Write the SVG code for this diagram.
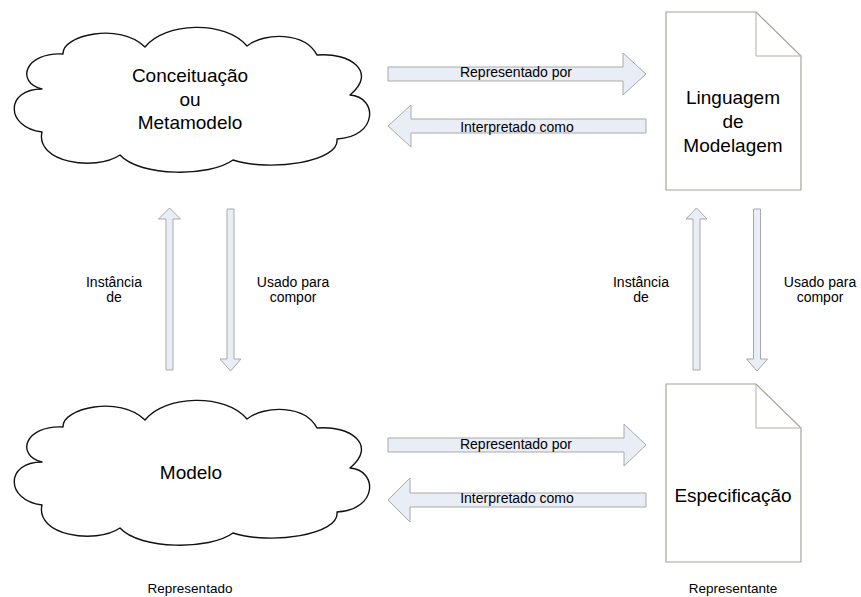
<svg xmlns="http://www.w3.org/2000/svg" xmlns:xlink="http://www.w3.org/1999/xlink" width="861" height="597" viewBox="0 0 861 597">
  <style>
    text { font-family: "Liberation Sans", Arial, sans-serif; fill: #000; }
    .big { font-size: 19px; text-anchor: middle; }
    .lbl { font-size: 14px; text-anchor: middle; }
    .cap { font-size: 13.5px; text-anchor: middle; }
    .cloud { fill: #fff; stroke: #111; stroke-width: 1.4; stroke-linejoin: round; }
    .doc { fill: #fff; stroke: #aaa399; stroke-width: 1.2; }
    .fold { fill: none; stroke: #b5afa7; stroke-width: 1; }
    .arrow { fill: #e9edf5; stroke: #a9a9a9; stroke-width: 1; }
  </style>
  <defs>
    <!-- cloud outline, drawn at the lower position -->
    <path id="cloudShape" class="cloud" d="M42,462 C15,455 25,425 63,427 C62,408 120,395 145,420 C165,395 225,393 247,419 C265,405 305,405 317,428 C350,425 378,445 350,468 C378,470 378,510 337,512 C340,535 270,545 233,533 C210,550 140,550 120,528 C95,545 35,535 42,505 C5,500 5,462 42,462 Z"/>
  </defs>

  <rect width="861" height="597" fill="#fff"/>

  <g id="conceituacao">
    <use xlink:href="#cloudShape" transform="translate(0,-373)"/>
    <text class="big" x="190" y="82">Conceituação</text>
    <text class="big" x="190" y="106">ou</text>
    <text class="big" x="190" y="129">Metamodelo</text>
  </g>

  <g id="modelo">
    <use xlink:href="#cloudShape"/>
    <text class="big" x="191" y="479">Modelo</text>
  </g>

  <g id="linguagem">
    <path class="doc" d="M666,12 H756 L801,56 V190 H666 Z"/>
    <path class="fold" d="M756,12 V56 H801"/>
    <text class="big" x="733" y="104">Linguagem</text>
    <text class="big" x="733" y="128">de</text>
    <text class="big" x="733" y="152">Modelagem</text>
  </g>

  <g id="especificacao">
    <path class="doc" d="M666,384 H756 L801,428 V562 H666 Z"/>
    <path class="fold" d="M756,384 V428 H801"/>
    <text class="big" x="733" y="502">Especificação</text>
  </g>

  <g id="connectors">
    <!-- horizontal, upper pair -->
    <path class="arrow" d="M388,67 H623 V53 L646,74 L623,95 V81 H388 Z"/>
    <text class="lbl" x="516" y="77">Representado por</text>
    <path class="arrow" d="M646,119 H411 V105 L388,126 L411,147 V133 H646 Z"/>
    <text class="lbl" x="517" y="132">Interpretado como</text>

    <!-- horizontal, lower pair -->
    <path class="arrow" d="M388,438 H624 V424 L646,445 L624,466 V452 H388 Z"/>
    <text class="lbl" x="516" y="449">Representado por</text>
    <path class="arrow" d="M646,493 H410 V478 L388,500 L410,522 V507 H646 Z"/>
    <text class="lbl" x="517" y="503">Interpretado como</text>

    <!-- vertical, left pair -->
    <path class="arrow" d="M166,370 V219 H158.5 L169.5,208 L180.5,219 H173 V370 Z"/>
    <text class="lbl" x="114" y="287">Instância</text>
    <text class="lbl" x="114" y="302">de</text>
    <path class="arrow" d="M227,209 V359 H220 L230.5,371 L241,359 H234 V209 Z"/>
    <text class="lbl" x="293" y="287">Usado para</text>
    <text class="lbl" x="293" y="302">compor</text>

    <!-- vertical, right pair -->
    <path class="arrow" d="M693,370 V219 H686 L696.5,208 L707,219 H700 V370 Z"/>
    <text class="lbl" x="641" y="287">Instância</text>
    <text class="lbl" x="641" y="302">de</text>
    <path class="arrow" d="M753.5,209 V359 H746.5 L757,371 L767.5,359 H760.5 V209 Z"/>
    <text class="lbl" x="820" y="287">Usado para</text>
    <text class="lbl" x="820" y="302">compor</text>
  </g>

  <text class="cap" x="190" y="593">Representado</text>
  <text class="cap" x="733" y="593">Representante</text>
</svg>
